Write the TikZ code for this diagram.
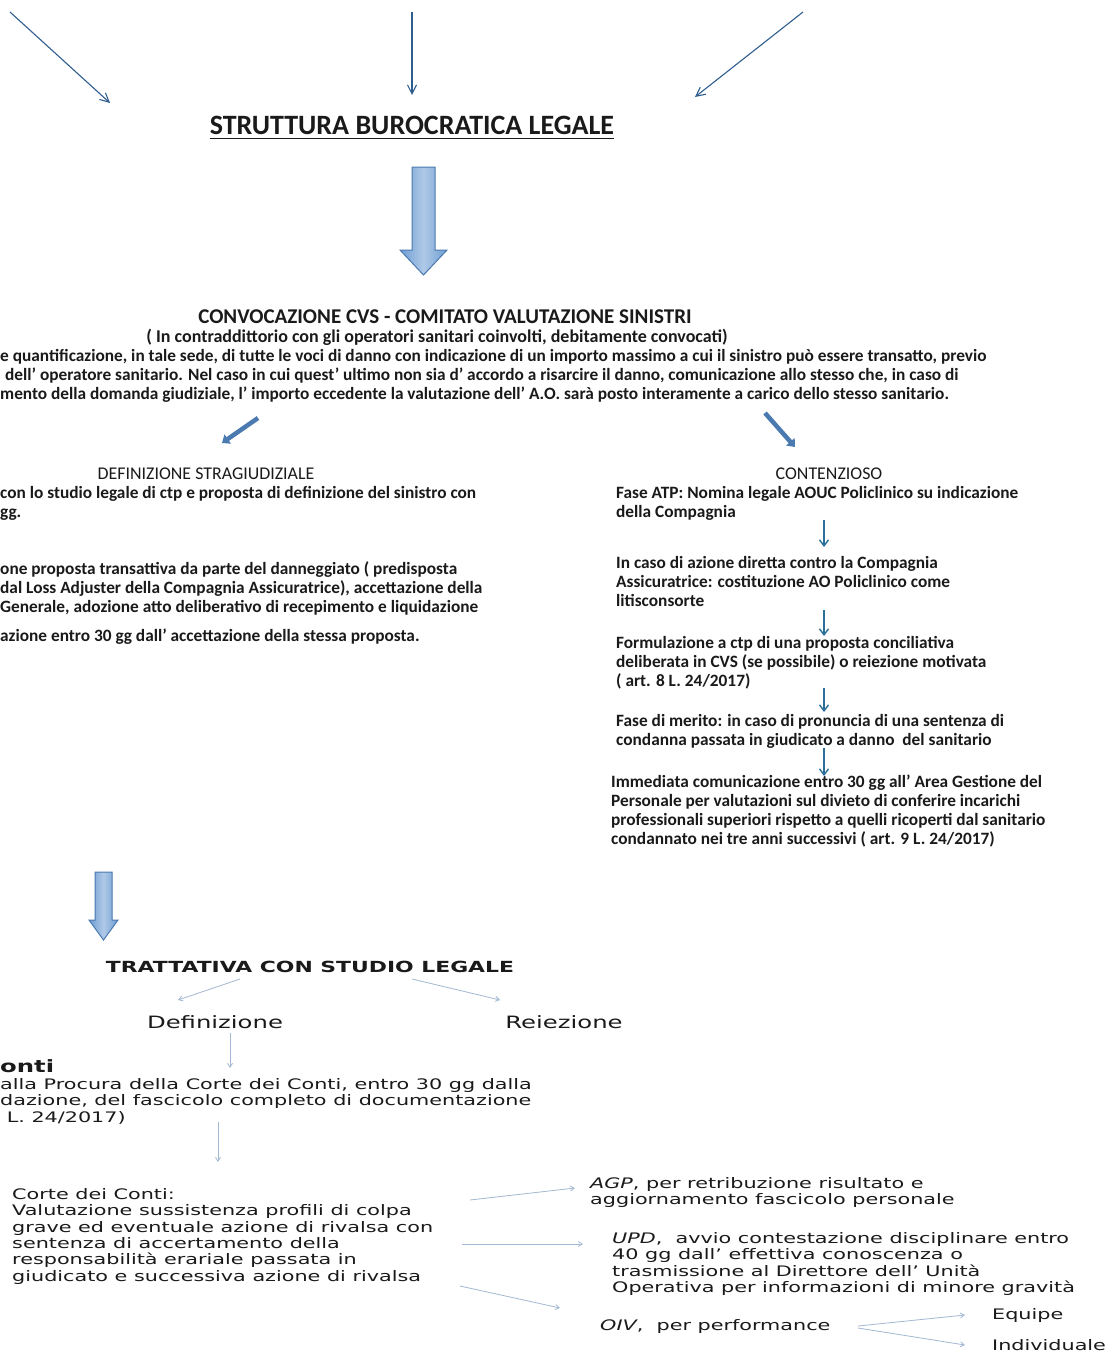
\documentclass[tikz,border=0pt]{standalone}
\usepackage{fontspec}
\setmainfont{Carlito}
\newfontfamily\vfont[FakeStretch=1.43]{DejaVu Sans}
\usetikzlibrary{arrows.meta}
\definecolor{darkarr}{HTML}{2F5E8E}
\definecolor{lightarr}{HTML}{A3B8D2}
\definecolor{blockfill}{HTML}{6E9DD3}
\definecolor{blockedge}{HTML}{4A7AB0}
\definecolor{ink}{HTML}{1A1A1A}
\begin{document}
\begin{tikzpicture}[x=1pt,y=-1pt,
  thinarr/.style={draw=darkarr,line width=1.1pt,-{Straight Barb[length=9pt,width=9pt]}},
  downarr/.style={draw=darkarr!90!cyan,line width=1.4pt,-{Straight Barb[length=6pt,width=9pt]}},
  lightconn/.style={draw=lightarr,line width=0.8pt,-{Straight Barb[length=4pt,width=5pt]}},
  diagarrow/.style={draw=blockedge,line width=4.5pt,-{Triangle[length=7pt,width=11pt]}},
  bigarrow/.style={draw=blockedge,line width=1pt,left color=blockfill,right color=blockfill,middle color=blockfill!55!white},
  cal/.style={inner sep=0pt,text=ink,align=left,font=\fontsize{17.3}{19}\selectfont\bfseries},
  calreg/.style={inner sep=0pt,text=ink,font=\fontsize{17.9}{19}\selectfont},
  ver/.style={inner sep=0pt,text=ink,align=left,font=\vfont\fontsize{14.5}{16.4}\selectfont},
]
\useasboundingbox (0,0) rectangle (1114,1355);
\clip (0,0) rectangle (1114,1355);
\fill[white] (0,0) rectangle (1114,1355);

% ---- top arrows and title
\coordinate (tl1) at (10,12);  \coordinate (tl2) at (110,103);
\coordinate (tm1) at (412,12); \coordinate (tm2) at (412,95);
\coordinate (tr1) at (803,12); \coordinate (tr2) at (695,97);
\draw[thinarr] (tl1) -- (tl2);
\draw[thinarr] (tm1) -- (tm2);
\draw[thinarr] (tr1) -- (tr2);

\node[inner sep=0pt,text=ink,font=\fontsize{28}{32}\selectfont\bfseries] (sbl) at (412,125) {STRUTTURA BUROCRATICA LEGALE};
\draw[ink,line width=1.8pt] ([yshift=-4.5pt]sbl.base west) -- ([yshift=-4.5pt]sbl.base east);

\path[bigarrow] (412,167) -- (435,167) -- (435,250) -- (447,250) -- (423.5,275) -- (400,250) -- (412,250) -- cycle;

% ---- CVS
\node[inner sep=0pt,text=ink,font=\fontsize{21}{24}\selectfont\bfseries] (cvs) at (445,317) {CONVOCAZIONE CVS - COMITATO VALUTAZIONE SINISTRI};
\node[calreg,font=\fontsize{18}{19}\selectfont\bfseries] (cvssub) at (437,337) {( In contraddittorio con gli operatori sanitari coinvolti, debitamente convocati)};
\node[cal,anchor=north west] (cvs1) at (0,349) {e quantificazione, in tale sede, di tutte le voci di danno con indicazione di un importo massimo a cui il sinistro può essere transatto, previo};
\node[cal,anchor=north west] (cvs2) at (5,368) {dell’ operatore sanitario. Nel caso in cui quest’ ultimo non sia d’ accordo a risarcire il danno, comunicazione allo stesso che, in caso di};
\node[cal,anchor=north west] (cvs3) at (0,387) {mento della domanda giudiziale, l’ importo eccedente la valutazione dell’ A.O. sarà posto interamente a carico dello stesso sanitario.};

\coordinate (dl1) at (258,418); \coordinate (dl2) at (222,443);
\coordinate (dr1) at (765,413); \coordinate (dr2) at (795,447);
\draw[diagarrow] (dl1) -- (dl2);
\draw[diagarrow] (dr1) -- (dr2);

% ---- left column
\node[calreg] (defs) at (206,474) {DEFINIZIONE STRAGIUDIZIALE};
\node[cal,anchor=north west] (defs1) at (0,486) {con lo studio legale di ctp e proposta di definizione del sinistro con\\gg.};
\node[cal,anchor=north west] (defs2) at (0,561) {one proposta transattiva da parte del danneggiato ( predisposta\\ dal Loss Adjuster della Compagnia Assicuratrice), accettazione della\\Generale, adozione atto deliberativo di recepimento e liquidazione};
\node[cal,anchor=north west] (defs3) at (0,629) {azione entro 30 gg dall’ accettazione della stessa proposta.};

% ---- right column
\node[calreg] (cont) at (829,474) {CONTENZIOSO};
\node[cal,anchor=north west] (c1) at (616,486) {Fase ATP: Nomina legale AOUC Policlinico su indicazione\\della Compagnia};
\node[cal,anchor=north west] (c2) at (616,556) {In caso di azione diretta contro la Compagnia\\Assicuratrice: costituzione AO Policlinico come\\litisconsorte};
\node[cal,anchor=north west] (c3) at (616,636) {Formulazione a ctp di una proposta conciliativa\\deliberata in CVS (se possibile) o reiezione motivata\\( art. 8 L. 24/2017)};
\node[cal,anchor=north west] (c4) at (616,714) {Fase di merito: in caso di pronuncia di una sentenza di\\condanna passata in giudicato a danno\ \ del sanitario};
\node[cal,anchor=north west] (c5) at (611,775) {Immediata comunicazione entro 30 gg all’ Area Gestione del\\Personale per valutazioni sul divieto di conferire incarichi\\professionali superiori rispetto a quelli ricoperti dal sanitario\\condannato nei tre anni successivi ( art. 9 L. 24/2017)};
\coordinate (a1s) at (824,520); \coordinate (a1e) at (824,547);
\coordinate (a2s) at (824,610); \coordinate (a2e) at (824,636);
\coordinate (a3s) at (824,688); \coordinate (a3e) at (824,712);
\coordinate (a4s) at (824,748); \coordinate (a4e) at (824,776);
\draw[downarr] (a1s) -- (a1e);
\draw[downarr] (a2s) -- (a2e);
\draw[downarr] (a3s) -- (a3e);
\draw[downarr] (a4s) -- (a4e);

% ---- second big arrow
\path[bigarrow] (95,872) -- (112,872) -- (112,920) -- (118,920) -- (103.5,940) -- (89,920) -- (95,920) -- cycle;

% ---- trattativa
\node[ver,font=\vfont\fontsize{15.3}{17}\selectfont\bfseries] (tratt) at (310,967) {TRATTATIVA CON STUDIO LEGALE};
\node[ver,font=\vfont\fontsize{17}{19}\selectfont] (defin) at (215,1022) {Definizione};
\node[ver,font=\vfont\fontsize{17}{19}\selectfont] (reiez) at (564,1022) {Reiezione};
\coordinate (t1s) at (240,979); \coordinate (t1e) at (178,1000);
\coordinate (t2s) at (412,979); \coordinate (t2e) at (500,1000);
\draw[lightconn] (t1s) -- (t1e);
\draw[lightconn] (t2s) -- (t2e);
\coordinate (d1s) at (230,1033); \coordinate (d1e) at (230,1068);
\draw[lightconn] (d1s) -- (d1e);

\node[ver,anchor=base west,font=\vfont\fontsize{17}{20}\selectfont\bfseries] (onti) at (0,1072) {onti};
\node[ver,anchor=north west] (proc) at (0,1078) {alla Procura della Corte dei Conti, entro 30 gg dalla\\dazione, del fascicolo completo di documentazione\\\ L. 24/2017)};
\coordinate (p1s) at (218,1122); \coordinate (p1e) at (218,1162);
\draw[lightconn] (p1s) -- (p1e);

\node[ver,anchor=north west] (corte) at (12,1188) {Corte dei Conti:\\Valutazione sussistenza profili di colpa\\grave ed eventuale azione di rivalsa con\\sentenza di accertamento della\\responsabilità erariale passata in\\giudicato e successiva azione di rivalsa};

\node[ver,anchor=north west] (agp) at (590,1177) {\textit{AGP}, per retribuzione risultato e\\aggiornamento fascicolo personale};
\node[ver,anchor=north west] (upd) at (612,1232) {\textit{UPD}, \ avvio contestazione disciplinare entro\\40 gg dall’ effettiva conoscenza o\\trasmissione al Direttore dell’ Unità\\Operativa per informazioni di minore gravità};
\node[ver,anchor=north west] (oiv) at (600,1319) {\textit{OIV}, \ per performance};
\node[ver,anchor=north west] (equipe) at (992,1308) {Equipe};
\node[ver,anchor=north west] (indiv) at (992,1339) {Individuale};

\coordinate (k1s) at (470,1200); \coordinate (k1e) at (575,1188);
\coordinate (k2s) at (462,1244); \coordinate (k2e) at (583,1244);
\coordinate (k3s) at (460,1286); \coordinate (k3e) at (560,1308);
\draw[lightconn] (k1s) -- (k1e);
\draw[lightconn] (k2s) -- (k2e);
\draw[lightconn] (k3s) -- (k3e);
\coordinate (o1s) at (858,1326); \coordinate (o1e) at (965,1315);
\coordinate (o2s) at (858,1328); \coordinate (o2e) at (965,1345);
\draw[lightconn] (o1s) -- (o1e);
\draw[lightconn] (o2s) -- (o2e);
\end{tikzpicture}
\end{document}
